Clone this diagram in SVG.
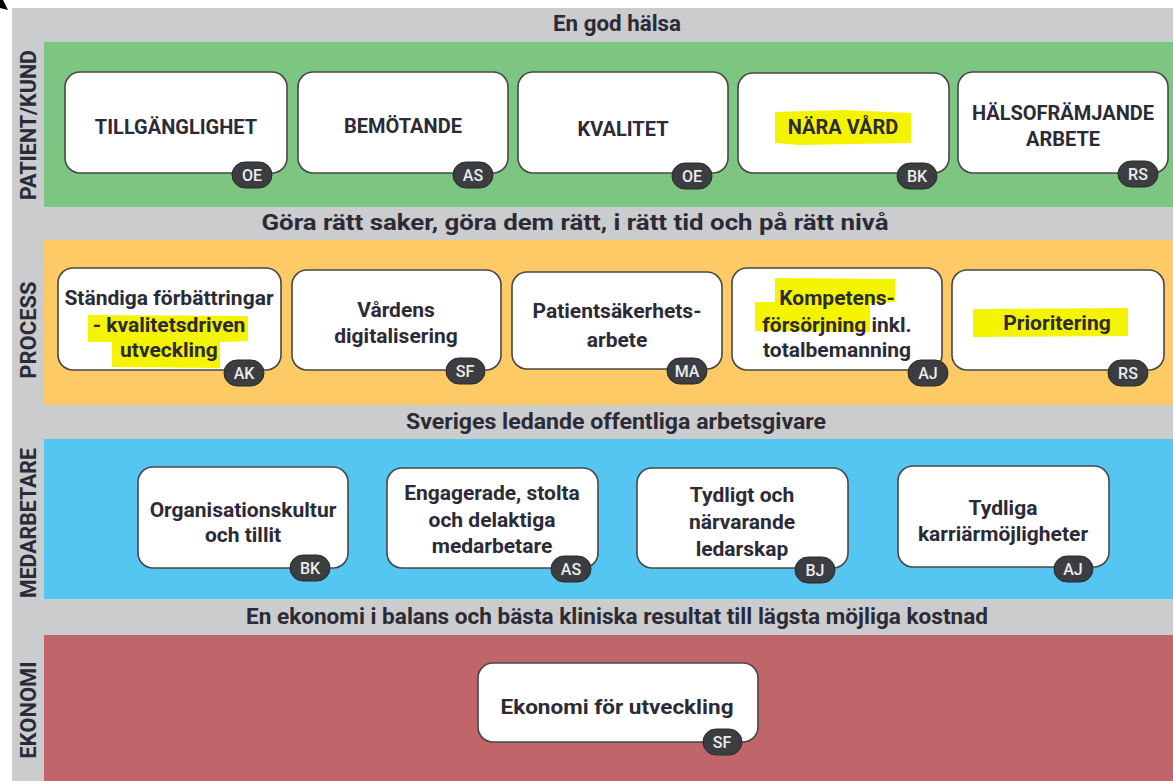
<svg xmlns="http://www.w3.org/2000/svg" width="1173" height="781" viewBox="0 0 1173 781">
  <style>
    .band-title { font-family: Roboto, "Liberation Sans", sans-serif; font-weight: 700; font-size: 22px; fill: #2b2a36; text-anchor: middle; }
    .side { font-family: Roboto, "Liberation Sans", sans-serif; font-weight: 700; font-size: 22px; fill: #2b2a36; text-anchor: middle; }
    .box { fill: #ffffff; stroke: #474747; stroke-width: 1.6; }
    .lbl { font-family: Roboto, "Liberation Sans", sans-serif; font-weight: 700; font-size: 21px; fill: #2b2a36; text-anchor: middle; }
    .caps { font-size: 20px; }
    .badge { fill: #3b3d40; stroke: #2a2a2a; stroke-width: 1; }
    .badge-t { font-family: Roboto, "Liberation Sans", sans-serif; font-weight: 500; font-size: 16px; fill: #ececec; text-anchor: middle; }
    .hl { fill: #f4f400; }
  </style>

  <rect x="0" y="0" width="1173" height="781" fill="#ffffff"/>
  <!-- corner mark -->
  <polygon points="0,0 3,0 8,10 0,8" fill="#000000"/>

  <!-- grey frame -->
  <rect x="12" y="8" width="1161" height="773" fill="#cbcccd"/>

  <!-- coloured bands -->
  <rect x="44" y="42" width="1129" height="165" fill="#7dc682"/>
  <rect x="44" y="240" width="1129" height="165" fill="#fdca66"/>
  <rect x="44" y="439" width="1129" height="160" fill="#55c6f1"/>
  <rect x="44" y="635" width="1129" height="146" fill="#c0666a"/>

  <!-- band headings -->
  <text class="band-title" x="617" y="31" textLength="128" lengthAdjust="spacingAndGlyphs">En god hälsa</text>
  <text class="band-title" x="575" y="230" textLength="627" lengthAdjust="spacingAndGlyphs">Göra rätt saker, göra dem rätt, i rätt tid och på rätt nivå</text>
  <text class="band-title" x="616" y="429" textLength="420" lengthAdjust="spacingAndGlyphs">Sveriges ledande offentliga arbetsgivare</text>
  <text class="band-title" x="617" y="624" textLength="742" lengthAdjust="spacingAndGlyphs">En ekonomi i balans och bästa kliniska resultat till lägsta möjliga kostnad</text>

  <!-- side labels -->
  <text class="side" transform="translate(36,125) rotate(-90)" textLength="150" lengthAdjust="spacingAndGlyphs">PATIENT/KUND</text>
  <text class="side" transform="translate(36,330) rotate(-90)">PROCESS</text>
  <text class="side" transform="translate(36,523) rotate(-90)" textLength="150" lengthAdjust="spacingAndGlyphs">MEDARBETARE</text>
  <text class="side" transform="translate(36,710) rotate(-90)">EKONOMI</text>

  <!-- PATIENT/KUND row -->
  <g id="tillganglighet">
    <rect class="box" x="65" y="72" width="222" height="101" rx="15"/>
    <text class="lbl caps" x="176" y="134">TILLGÄNGLIGHET</text>
    <rect class="badge" x="232" y="162" width="40" height="26" rx="13"/>
    <text class="badge-t" x="252" y="181">OE</text>
  </g>
  <g id="bemotande">
    <rect class="box" x="298" y="72" width="210" height="101" rx="15"/>
    <text class="lbl caps" x="403" y="133">BEMÖTANDE</text>
    <rect class="badge" x="453" y="162" width="40" height="26" rx="13"/>
    <text class="badge-t" x="473" y="181">AS</text>
  </g>
  <g id="kvalitet">
    <rect class="box" x="518" y="72" width="210" height="101" rx="15"/>
    <text class="lbl caps" x="623" y="136">KVALITET</text>
    <rect class="badge" x="672" y="163" width="40" height="26" rx="13"/>
    <text class="badge-t" x="692" y="182">OE</text>
  </g>
  <g id="nara-vard">
    <rect class="box" x="738" y="73" width="211" height="100" rx="15"/>
    <polygon class="hl" points="775,112 843,110 911,113 911,143 800,145 775,143"/>
    <text class="lbl caps" x="843" y="134">NÄRA VÅRD</text>
    <rect class="badge" x="897" y="163" width="40" height="26" rx="13"/>
    <text class="badge-t" x="917" y="182">BK</text>
  </g>
  <g id="halsoframjande">
    <rect class="box" x="958" y="72" width="210" height="101" rx="15"/>
    <text class="lbl caps" x="1063" y="120">HÄLSOFRÄMJANDE</text>
    <text class="lbl caps" x="1063" y="146">ARBETE</text>
    <rect class="badge" x="1118" y="161" width="40" height="26" rx="13"/>
    <text class="badge-t" x="1138" y="180">RS</text>
  </g>

  <!-- PROCESS row -->
  <g id="standiga-forbattringar">
    <rect class="box" x="58" y="268" width="223" height="102" rx="15"/>
    <polygon class="hl" points="88,315 248,316 248,341 220,342 220,368 112,367 112,342 88,342"/>
    <text class="lbl" x="169" y="305">Ständiga förbättringar</text>
    <text class="lbl" x="169" y="332">- kvalitetsdriven</text>
    <text class="lbl" x="169" y="357">utveckling</text>
    <rect class="badge" x="224" y="360" width="40" height="26" rx="13"/>
    <text class="badge-t" x="244" y="379">AK</text>
  </g>
  <g id="vardens-digitalisering">
    <rect class="box" x="292" y="270" width="209" height="100" rx="15"/>
    <text class="lbl" x="396" y="317">Vårdens</text>
    <text class="lbl" x="396" y="343">digitalisering</text>
    <rect class="badge" x="446" y="358" width="39" height="26" rx="13"/>
    <text class="badge-t" x="465" y="377">SF</text>
  </g>
  <g id="patientsakerhetsarbete">
    <rect class="box" x="512" y="272" width="210" height="97" rx="15"/>
    <text class="lbl" x="617" y="318">Patientsäkerhets-</text>
    <text class="lbl" x="617" y="347">arbete</text>
    <rect class="badge" x="667" y="358" width="40" height="26" rx="13"/>
    <text class="badge-t" x="687" y="377">MA</text>
  </g>
  <g id="kompetensforsorjning">
    <rect class="box" x="732" y="268" width="210" height="102" rx="15"/>
    <polygon class="hl" points="775,278 895,279 895,302 870,303 870,332 755,331 755,302 775,302"/>
    <text class="lbl" x="837" y="305">Kompetens-</text>
    <text class="lbl" x="837" y="332">försörjning inkl.</text>
    <text class="lbl" x="837" y="357">totalbemanning</text>
    <rect class="badge" x="908" y="360" width="40" height="26" rx="13"/>
    <text class="badge-t" x="928" y="379">AJ</text>
  </g>
  <g id="prioritering">
    <rect class="box" x="952" y="270" width="212" height="100" rx="15"/>
    <polygon class="hl" points="973,309 1128,308 1128,336 973,337"/>
    <text class="lbl" x="1057" y="330">Prioritering</text>
    <rect class="badge" x="1108" y="360" width="40" height="26" rx="13"/>
    <text class="badge-t" x="1128" y="379">RS</text>
  </g>

  <!-- MEDARBETARE row -->
  <g id="organisationskultur">
    <rect class="box" x="138" y="467" width="210" height="101" rx="15"/>
    <text class="lbl" x="243" y="517">Organisationskultur</text>
    <text class="lbl" x="243" y="542">och tillit</text>
    <rect class="badge" x="290" y="555" width="40" height="26" rx="13"/>
    <text class="badge-t" x="310" y="574">BK</text>
  </g>
  <g id="engagerade-medarbetare">
    <rect class="box" x="387" y="468" width="211" height="100" rx="15"/>
    <text class="lbl" x="492" y="500">Engagerade, stolta</text>
    <text class="lbl" x="492" y="527">och delaktiga</text>
    <text class="lbl" x="492" y="553">medarbetare</text>
    <rect class="badge" x="551" y="556" width="40" height="26" rx="13"/>
    <text class="badge-t" x="571" y="575">AS</text>
  </g>
  <g id="narvarande-ledarskap">
    <rect class="box" x="637" y="468" width="211" height="100" rx="15"/>
    <text class="lbl" x="742" y="502">Tydligt och</text>
    <text class="lbl" x="742" y="529">närvarande</text>
    <text class="lbl" x="742" y="556">ledarskap</text>
    <rect class="badge" x="795" y="557" width="40" height="26" rx="13"/>
    <text class="badge-t" x="815" y="576">BJ</text>
  </g>
  <g id="karriarmojligheter">
    <rect class="box" x="898" y="466" width="211" height="101" rx="15"/>
    <text class="lbl" x="1003" y="515">Tydliga</text>
    <text class="lbl" x="1003" y="541">karriärmöjligheter</text>
    <rect class="badge" x="1054" y="556" width="39" height="26" rx="13"/>
    <text class="badge-t" x="1073" y="575">AJ</text>
  </g>

  <!-- EKONOMI row -->
  <g id="ekonomi-for-utveckling">
    <rect class="box" x="478" y="663" width="280" height="79" rx="15"/>
    <text class="lbl" x="617" y="714" textLength="233" lengthAdjust="spacingAndGlyphs">Ekonomi för utveckling</text>
    <rect class="badge" x="703" y="729" width="39" height="26" rx="13"/>
    <text class="badge-t" x="722" y="748">SF</text>
  </g>
</svg>
